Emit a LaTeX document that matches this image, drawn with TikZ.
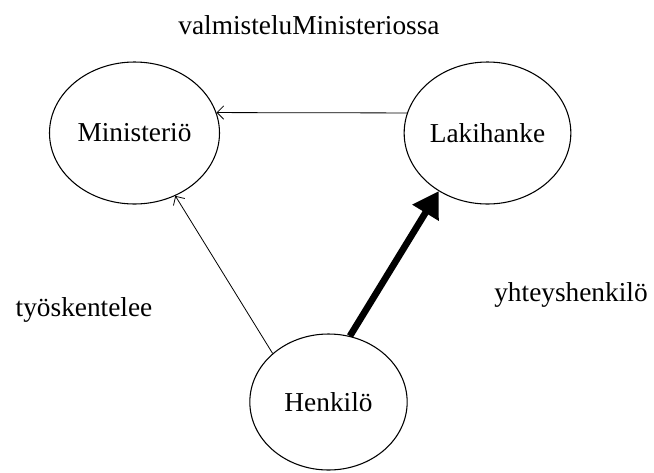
\documentclass[tikz,border=0pt]{standalone}
\usepackage{fontspec}
\setmainfont{Liberation Serif}
\usetikzlibrary{shapes.geometric, arrows.meta}

\begin{document}
\begin{tikzpicture}[
    x=0.75pt, y=-0.75pt,
    every node/.style={font=\fontsize{20.5}{24}\selectfont},
    state/.style={draw,ellipse,thick,inner sep=0pt},
    plain link/.style={-{Straight Barb[length=5pt,width=10pt]},semithick},
    strong link/.style={-{Triangle[length=19pt,width=22pt]},line width=5pt}
    ]
    \useasboundingbox (0,0) rectangle (654,472);
    % nodes
    \node [state,minimum width=127.5pt,minimum height=106.5pt] (ministerio) at (134.5,133) {Ministeriö};
    \node [state,minimum width=125pt,minimum height=106.5pt] (lakihanke) at (487.5,133) {Lakihanke};
    \node [state,minimum width=118pt,minimum height=102pt] (henkilo) at (328.5,402) {Henkilö};
    % labels
    \node (valmistelu) at (309,25) {valmisteluMinisteriossa};
    \node (tyoskentelee) at (84,310) {työskentelee};
    \node (yhteyshenkilo) at (571,295) {yhteyshenkilö};
    % edges
    % lakihanke - ministerio
    \draw [plain link] (lakihanke.166) -- (ministerio.14);
    % henkilo - ministerio
    \draw [plain link] (henkilo.139) -- (ministerio.303);
    % henkilo - lakihanke
    \draw [strong link] (henkilo.72) -- (lakihanke.230);
\end{tikzpicture}
\end{document}
